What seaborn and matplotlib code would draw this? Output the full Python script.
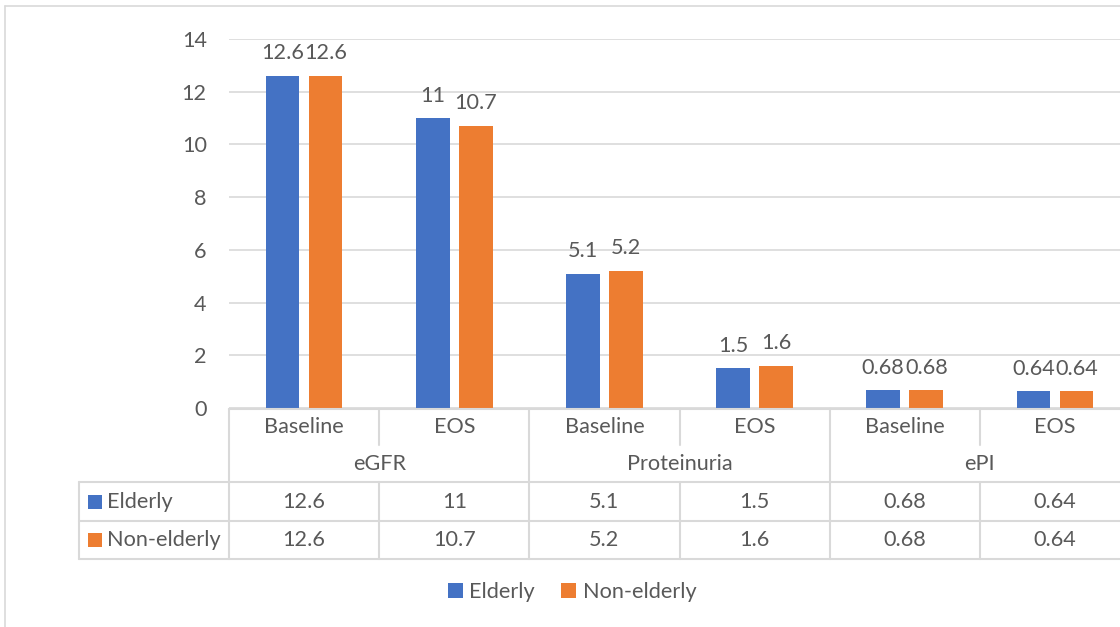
import matplotlib
matplotlib.use("Agg")
import matplotlib.pyplot as plt
import seaborn as sns
import pandas as pd
from matplotlib.patches import Rectangle, Patch
from matplotlib.lines import Line2D
from matplotlib.transforms import blended_transform_factory

# ---- data ----
measures = ["eGFR", "Proteinuria", "ePI"]
timepoints = ["Baseline", "EOS"]
series = ["Elderly", "Non-elderly"]
elderly = [12.6, 11, 5.1, 1.5, 0.68, 0.64]
non_elderly = [12.6, 10.7, 5.2, 1.6, 0.68, 0.64]
yticks = [0, 2, 4, 6, 8, 10, 12, 14]
colors = ["#4472C4", "#ED7D31"]

TEXT = "#595959"
GRID = "#d9d9d9"
FS = 15.6

sns.set_style("white")
plt.rcParams["font.family"] = ["Lato", "DejaVu Sans"]

categories = [f"{m} {t}" for m in measures for t in timepoints]
df = pd.DataFrame({
    "category": categories * 2,
    "series": [series[0]] * len(categories) + [series[1]] * len(categories),
    "value": elderly + non_elderly,
})

W, H = 1120, 627
fig = plt.figure(figsize=(W / 100, H / 100), dpi=100)
fig.patch.set_facecolor("white")

def fy(py):
    return 1 - py / H

def fx(px):
    return px / W

ax = fig.add_axes([fx(229), fy(408), 901 / W, 369 / H])
sns.barplot(data=df, x="category", y="value", hue="series", order=categories,
            hue_order=series, palette=colors, width=0.573, gap=0.22,
            saturation=1, linewidth=0, legend=False, ax=ax)

ax.set_xlim(-0.5, 5.5)
ax.set_ylim(0, 14)
ax.set_yticks(yticks)
ax.set_yticklabels([str(t) for t in yticks], fontsize=FS, color=TEXT)
ax.tick_params(axis="y", length=0, pad=16)
ax.set_xticks([])
ax.set_xlabel("")
ax.set_ylabel("")
ax.yaxis.grid(True, color=GRID, lw=1.2)
ax.set_axisbelow(True)
for s in ax.spines.values():
    s.set_visible(False)

for cont in ax.containers:
    ax.bar_label(cont, fmt="{:g}", padding=9, fontsize=FS, color=TEXT)

# ---- data table under the axis ----
tr = blended_transform_factory(ax.transData, fig.transFigure)

def hline(x0, x1, py):
    ax.add_line(Line2D([x0, x1], [fy(py), fy(py)], transform=tr, color=GRID,
                       lw=1.5, clip_on=False))

def vline(x, py0, py1):
    ax.add_line(Line2D([x, x], [fy(py0), fy(py1)], transform=tr, color=GRID,
                       lw=1.5, clip_on=False))

hline(-0.5, 5.6, 409)
for py in (482, 521, 559):
    hline(-1.5, 5.6, py)
vline(-1.5, 482, 559)
for x in (-0.5, 1.5, 3.5):
    vline(x, 409, 559)
for x in (0.5, 2.5, 4.5):
    vline(x, 409, 445)
    vline(x, 482, 559)

for i, cat in enumerate(categories):
    ax.text(i, fy(427), timepoints[i % 2], transform=tr, ha="center",
            va="center", fontsize=FS, color=TEXT)
for g, m in enumerate(measures):
    ax.text(2 * g + 0.5, fy(463.5), m, transform=tr, ha="center",
            va="center", fontsize=FS, color=TEXT)

row_centers = [501.5, 540]
for vals, name, col, pyc in zip([elderly, non_elderly], series, colors, row_centers):
    for i, v in enumerate(vals):
        ax.text(i, fy(pyc), f"{v:g}", transform=tr, ha="center", va="center",
                fontsize=FS, color=TEXT)
    fig.add_artist(Rectangle((fx(88), fy(pyc + 7)), 14 / W, 14 / H,
                             facecolor=col, edgecolor="none",
                             transform=fig.transFigure))
    fig.text(fx(107), fy(pyc), name, ha="left", va="center", fontsize=FS,
             color=TEXT)

# ---- chart area border ----
fig.add_artist(Line2D([fx(5), fx(5)], [fy(6), 0], color=GRID, lw=1.2,
                      transform=fig.transFigure))
fig.add_artist(Line2D([fx(5), 1], [fy(6), fy(6)], color=GRID, lw=1.2,
                      transform=fig.transFigure))

# ---- legend ----
handles = [Patch(facecolor=c, edgecolor="none", label=s) for c, s in zip(colors, series)]
fig.legend(handles=handles, loc="center", bbox_to_anchor=(fx(572), fy(592)),
           ncol=2, frameon=False, fontsize=FS, labelcolor=TEXT,
           handlelength=0.7, handleheight=0.7, handletextpad=0.3,
           columnspacing=1.2)

fig.savefig("out.png", dpi=100, facecolor="white")
